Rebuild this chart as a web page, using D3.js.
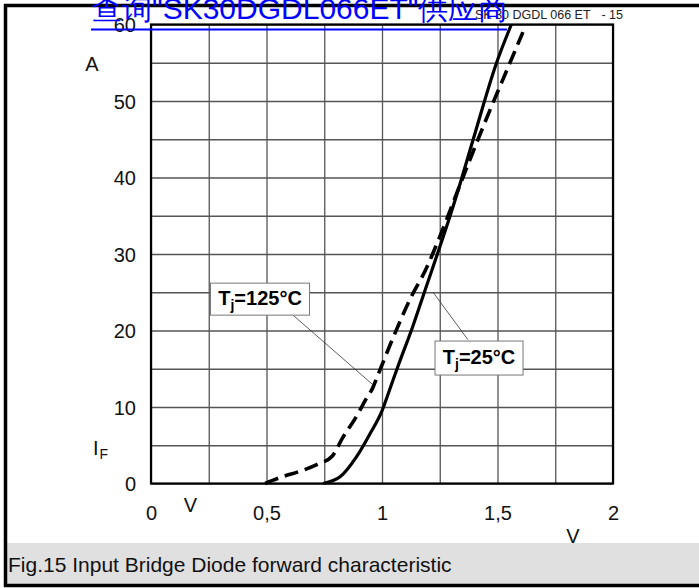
<!DOCTYPE html>
<html><head><meta charset="utf-8">
<script src="https://cdn.jsdelivr.net/npm/d3@7"></script>
<style>
html,body{margin:0;padding:0;background:#fff;}
svg{display:block;}
text{font-family:"Liberation Sans",Arial,sans-serif;}
</style></head>
<body>
<div id="chart"></div>
<script>
// ---- data ----
const xTicks = [0, 0.5, 1, 1.5, 2];
const xTickLabels = ["0", "0,5", "1", "1,5", "2"];
const yTicks = [0, 10, 20, 30, 40, 50, 60];
const xGrid = [0, 0.25, 0.5, 0.75, 1, 1.25, 1.5, 1.75, 2];
const yGrid = [0, 5, 10, 15, 20, 25, 30, 35, 40, 45, 50, 55, 60];

// Tj = 25 °C (solid)
const vf25 = [0.745, 0.82, 0.89, 0.95, 1.0, 1.03, 1.07, 1.134, 1.19, 1.26, 1.316, 1.395, 1.496, 1.56];
const if25 = [0, 0.9, 3.5, 6.6, 9.5, 12, 15.4, 20.6, 25.6, 31.8, 37, 45, 55, 60];
// Tj = 125 °C (dashed)
const vf125 = [0.494, 0.57, 0.645, 0.72, 0.785, 0.83, 0.89, 0.93, 0.96, 0.98, 1.05, 1.12, 1.19, 1.26, 1.35, 1.47, 1.54, 1.61];
const if125 = [0, 0.9, 1.6, 2.5, 3.6, 6.0, 8.8, 11, 12.5, 14, 19.2, 24, 28, 33, 40, 49, 54, 59];

// annotation anchors in data units: label centre, leader start, leader end
const ann125 = {label: [0.472, 24.1], from: [0.615, 22.0], to: [0.961, 12.9], temp: "=125°C"};
const ann25  = {label: [1.42, 16.4], from: [1.372, 18.8], to: [1.221, 25.0], temp: "=25°C"};

const titleText = "查询\"SK30DGDL066ET\"供应商";
const headerLeft = "SK 30 DGDL 066 ET";
const headerRight = "- 15";
const captionText = "Fig.15 Input Bridge Diode forward characteristic";

// ---- layout ----
const W = 699, H = 588;
const svg = d3.select("#chart").append("svg").attr("width", W).attr("height", H);

const x = d3.scaleLinear().domain([0, 2]).range([151, 613]);
const y = d3.scaleLinear().domain([0, 60]).range([483.5, 24.5]);

// caption band
svg.append("rect").attr("x", 6).attr("y", 543).attr("width", W - 6).attr("height", 41).attr("fill", "#e0e0e0");
svg.append("text").attr("x", 8).attr("y", 572).attr("font-size", 21).attr("fill", "#111").text(captionText);

// outer frame
svg.append("line").attr("x1", 5.5).attr("x2", 5.5).attr("y1", 4).attr("y2", 587).attr("stroke", "#000").attr("stroke-width", 3.5);
svg.append("line").attr("x1", 4).attr("x2", W).attr("y1", 5.5).attr("y2", 5.5).attr("stroke", "#000").attr("stroke-width", 3.5);
svg.append("line").attr("x1", 4).attr("x2", W).attr("y1", 585.5).attr("y2", 585.5).attr("stroke", "#000").attr("stroke-width", 3.5);

// header text
svg.append("text").attr("x", 475).attr("y", 18.5).attr("font-size", 12.5).attr("fill", "#222").text(headerLeft);
svg.append("text").attr("x", 623).attr("y", 18.5).attr("text-anchor", "end").attr("font-size", 12.5).attr("fill", "#222").text(headerRight);

// grid via axes
const gridX = d3.axisBottom(x).tickValues(xGrid).tickSize(-(y(0) - y(60))).tickFormat("");
svg.append("g").attr("transform", `translate(0,${y(0)})`).call(gridX)
  .call(g => g.select(".domain").remove())
  .call(g => g.selectAll("line").attr("stroke", "#555").attr("stroke-width", 1.3));
const gridY = d3.axisLeft(y).tickValues(yGrid).tickSize(-(x(2) - x(0))).tickFormat("");
svg.append("g").attr("transform", `translate(${x(0)},0)`).call(gridY)
  .call(g => g.select(".domain").remove())
  .call(g => g.selectAll("line").attr("stroke", "#555").attr("stroke-width", 1.3));

// plot border
svg.append("rect").attr("x", x(0)).attr("y", y(60)).attr("width", x(2) - x(0)).attr("height", y(0) - y(60))
  .attr("fill", "none").attr("stroke", "#000").attr("stroke-width", 2.2);

// tick labels via axes
const axX = d3.axisBottom(x).tickValues(xTicks).tickSize(0).tickPadding(0).tickFormat((d, i) => xTickLabels[i]);
svg.append("g").attr("transform", `translate(0,${y(0)})`).call(axX)
  .call(g => g.select(".domain").remove())
  .call(g => g.selectAll("text").attr("font-size", 20).attr("font-family", "Liberation Sans, Arial, sans-serif")
    .attr("fill", "#111").attr("dy", null).attr("y", 36.5));
const axY = d3.axisLeft(y).tickValues(yTicks).tickSize(0).tickPadding(15).tickFormat(d3.format("d"));
svg.append("g").attr("transform", `translate(${x(0)},0)`).call(axY)
  .call(g => g.select(".domain").remove())
  .call(g => g.selectAll("text").attr("font-size", 20).attr("font-family", "Liberation Sans, Arial, sans-serif")
    .attr("fill", "#111").attr("dy", "0.36em"));

// unit labels
svg.append("text").attr("x", 92).attr("y", 70.5).attr("text-anchor", "middle").attr("font-size", 20).attr("fill", "#111").text("A");
const iF = svg.append("text").attr("x", 93).attr("y", 455).attr("font-size", 20).attr("fill", "#111");
iF.append("tspan").text("I");
iF.append("tspan").attr("font-size", 14).attr("dy", 4).attr("dx", 1).text("F");
svg.append("text").attr("x", 190.5).attr("y", 512).attr("text-anchor", "middle").attr("font-size", 20).attr("fill", "#111").text("V");
svg.append("text").attr("x", 573).attr("y", 543).attr("text-anchor", "middle").attr("font-size", 20).attr("fill", "#111").text("V");

// curves
const line = d3.line().x(d => x(d[0])).y(d => y(d[1])).curve(d3.curveMonotoneX);
const d25 = vf25.map((v, i) => [v, if25[i]]);
const d125 = vf125.map((v, i) => [v, if125[i]]);
svg.append("path").datum(d25).attr("d", line).attr("fill", "none").attr("stroke", "#000").attr("stroke-width", 3.2);
svg.append("path").datum(d125).attr("d", line).attr("fill", "none").attr("stroke", "#000").attr("stroke-width", 3.6)
  .attr("stroke-dasharray", "14,7");

// annotations
function annotate(a, w, h) {
  svg.append("line").attr("x1", x(a.from[0])).attr("y1", y(a.from[1])).attr("x2", x(a.to[0])).attr("y2", y(a.to[1]))
    .attr("stroke", "#333").attr("stroke-width", 0.8);
  const cx = x(a.label[0]), cy = y(a.label[1]);
  svg.append("rect").attr("x", cx - w / 2).attr("y", cy - h / 2).attr("width", w).attr("height", h)
    .attr("fill", "#fff").attr("stroke", "#777").attr("stroke-width", 1);
  const t = svg.append("text").attr("x", cx).attr("y", cy + 6).attr("text-anchor", "middle")
    .attr("font-size", 20).attr("font-weight", "bold").attr("fill", "#000");
  t.append("tspan").text("T");
  t.append("tspan").attr("font-size", 14).attr("dy", 5).text("j");
  t.append("tspan").attr("dy", -5).text(a.temp);
}
annotate(ann125, 99, 32);
annotate(ann25, 88, 34);

// blue title link text
svg.append("text").attr("x", 92).attr("y", 19).attr("font-size", 30)
  .attr("font-family", "Liberation Sans, 'Noto Sans CJK SC', sans-serif").attr("fill", "#0000ff").text(titleText);
svg.append("line").attr("x1", 91).attr("x2", 507).attr("y1", 29.5).attr("y2", 29.5).attr("stroke", "#0000ff").attr("stroke-width", 2.2);
</script>
</body></html>
